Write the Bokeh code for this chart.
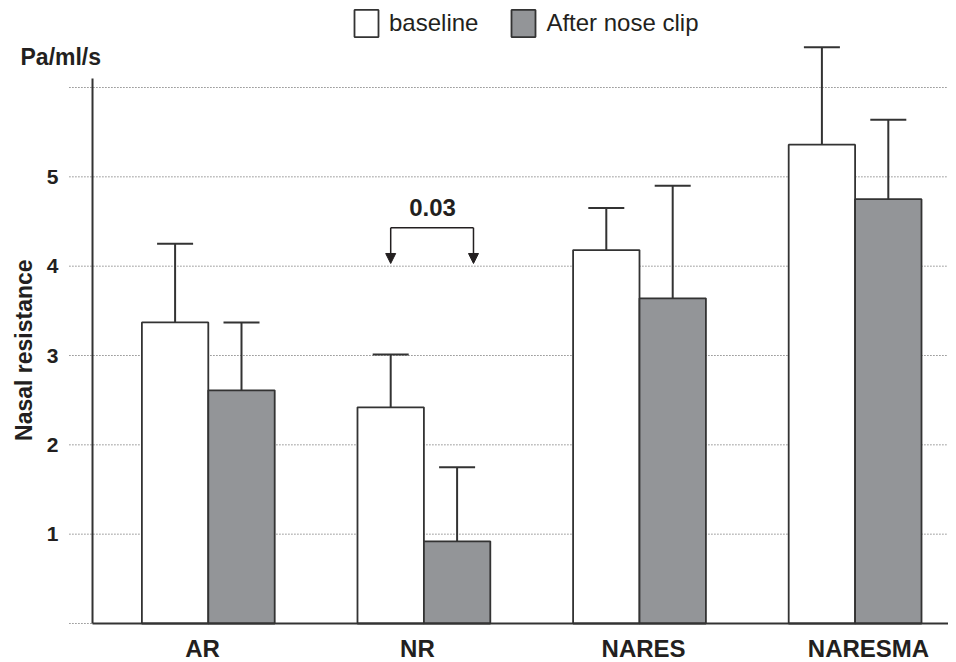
import numpy as np
from bokeh.plotting import figure
from bokeh.models import (ColumnDataSource, Range1d, Legend, LegendItem, Arrow, NormalHead)
from bokeh.core.properties import value
from bokeh.embed import file_html
from bokeh.resources import INLINE

# ---- data ----
categories = ["AR", "NR", "NARES", "NARESMA"]
baseline = [3.37, 2.42, 4.18, 5.36]
baseline_err = [0.88, 0.59, 0.47, 1.09]
clip = [2.61, 0.92, 3.64, 4.75]
clip_err = [0.76, 0.83, 1.26, 0.89]
y_ticks = [1, 2, 3, 4, 5]
y_tick_labels = ["1", "2", "3", "4", "5"]
grid_ticks = [0, 1, 2, 3, 4, 5, 6]
series_names = ["baseline", "After nose clip"]
p_value = "0.03"
y_unit = "Pa/ml/s"
y_title = "Nasal resistance"

# ---- style / layout ----
FONT = "Liberation Sans"
INK = "#231f20"
LINE = "#333333"
GRAY = "#939598"
BAR_W = 0.308
OFF = BAR_W / 2
CAP = 0.0835
LABEL_DX = [-0.027, -0.03, 0.019, 0.062]
X0, X1 = -0.9638, 3.4332
Y0, Y1 = -0.4366, 6.974
AXIS_X = -0.537
GRID_X0 = -0.644
TICK_X = -0.695
H = 662

idx = np.arange(len(categories), dtype=float)
b = np.array(baseline)
c = np.array(clip)

src_b = ColumnDataSource(dict(x=idx - OFF, top=b, hi=b + np.array(baseline_err),
                              xl=idx - OFF - CAP, xr=idx - OFF + CAP))
src_c = ColumnDataSource(dict(x=idx + OFF, top=c, hi=c + np.array(clip_err),
                              xl=idx + OFF - CAP, xr=idx + OFF + CAP))

p = figure(width=948, height=H,
           x_range=Range1d(X0, X1), y_range=Range1d(Y0, Y1),
           output_backend="svg", toolbar_location=None,
           x_axis_location=None, y_axis_location=None,
           min_border_left=0, min_border_right=0, min_border_top=0, min_border_bottom=0)
p.outline_line_color = None
p.xgrid.visible = False
p.ygrid.visible = False

# dotted grid lines
g = np.array(grid_ticks, dtype=float)
p.segment(x0=np.full(len(g), GRID_X0), y0=g, x1=np.full(len(g), X1), y1=g,
          line_color="#555555", line_dash="1 2", line_width=1)

# error bars
for src in (src_b, src_c):
    p.segment(x0="x", y0="top", x1="x", y1="hi", source=src, line_color=LINE, line_width=2)
    p.segment(x0="xl", y0="hi", x1="xr", y1="hi", source=src, line_color=LINE, line_width=2)

rb = p.vbar(x="x", top="top", bottom=0, width=BAR_W, source=src_b,
            fill_color="white", line_color=LINE, line_width=1.8)
rc = p.vbar(x="x", top="top", bottom=0, width=BAR_W, source=src_c,
            fill_color=GRAY, line_color=LINE, line_width=1.8)

# axis lines
p.segment(x0=[AXIS_X], y0=[0], x1=[AXIS_X], y1=[6.1], line_color=LINE, line_width=2)
p.segment(x0=[AXIS_X], y0=[0], x1=[X1], y1=[0], line_color=LINE, line_width=2)

# y tick labels
p.text(x=np.full(len(y_ticks), TICK_X), y=y_ticks, text=y_tick_labels,
       text_font=value(FONT), text_font_style="bold", text_font_size="21px",
       text_color=INK, text_align="right", text_baseline="middle")

# category labels
p.text(x=idx + np.array(LABEL_DX), y=np.full(len(categories), -0.275), text=categories,
       text_font=value(FONT), text_font_style="bold", text_font_size="24px",
       text_color=INK, text_align="center", text_baseline="middle")

# axis titles
p.text(x=[-0.871], y=[6.336], text=[y_unit], text_font=value(FONT), text_font_style="bold",
       text_font_size="23px", text_color=INK, text_align="left", text_baseline="middle")
p.text(x=[-0.857], y=[3.06], text=[y_title], angle=np.pi / 2, text_font=value(FONT),
       text_font_style="bold", text_font_size="23px", text_color=INK,
       text_align="center", text_baseline="middle")

# significance bracket
bx0 = idx[1] - OFF
bx1 = idx[1] + 0.23
by = 4.43
tip = 4.03
p.segment(x0=[bx0], y0=[by], x1=[bx1], y1=[by], line_color=INK, line_width=1.5)
for xx in (bx0, bx1):
    p.add_layout(Arrow(end=NormalHead(size=10, fill_color=INK, line_color=INK, line_width=1),
                       x_start=xx, y_start=by, x_end=xx, y_end=tip,
                       line_color=INK, line_width=1.5))
p.text(x=[idx[1] + 0.04], y=[4.66], text=[p_value], text_font=value(FONT),
       text_font_style="bold", text_font_size="24px", text_color=INK,
       text_align="center", text_baseline="middle")

# legend
legend = Legend(items=[LegendItem(label=series_names[0], renderers=[rb]),
                       LegendItem(label=series_names[1], renderers=[rc])],
                orientation="horizontal", location=(351, H - 40),
                glyph_width=30, glyph_height=34, label_standoff=8, spacing=30,
                padding=0, margin=0, border_line_color=None, background_fill_alpha=0,
                label_text_font=FONT, label_text_font_size="24px", label_text_color=INK)
p.add_layout(legend)

open("out.html", "w").write(file_html(p, INLINE))
